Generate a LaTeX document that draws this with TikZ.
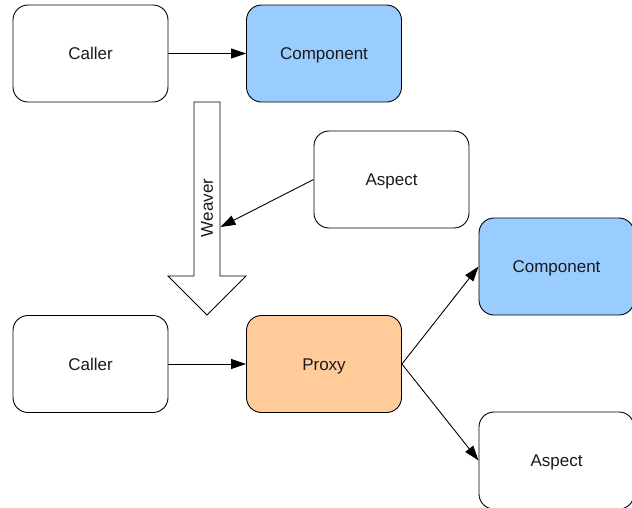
\documentclass[tikz,border=0pt]{standalone}
\usepackage{fontspec}
\setmainfont{Liberation Sans}
\usetikzlibrary{arrows.meta}
\definecolor{cblue}{HTML}{99CCFF}
\definecolor{corange}{HTML}{FFCC99}
\definecolor{ctext}{HTML}{1A1A1A}
\tikzset{
	box/.style={draw=black, line width=0.9pt, rounded corners=15pt, fill=white,
		minimum width=155pt, minimum height=97pt, inner sep=0pt,
		text height=12pt, text depth=0pt,
		font=\fontsize{17}{20}\selectfont, text=ctext},
	link/.style={draw=black, line width=0.9pt, -{Triangle[length=15pt,width=10pt]}}
}
\begin{document}
\begin{tikzpicture}[x=1pt, y=-1pt]
		\clip (0,0) rectangle (632,507);
		\useasboundingbox (0,0) rectangle (632,507);
		\node[box] (caller1) at (90.5,53.5) {Caller};
		\node[box, fill=cblue] (comp1) at (324,53.5) {Component};
		\node[box] (aspect1) at (391.5,179.5) {Aspect};
		\node[box] (caller2) at (90.5,364) {Caller};
		\node[box, fill=corange] (proxy) at (324,364) {Proxy};
		\node[box, fill=cblue] (comp2) at (556.5,266.5) {Component};
		\node[box] (aspect2) at (556.5,460.5) {Aspect};
		% weaver block arrow
		\draw[line width=0.9pt, fill=white] (194,102) -- (220,102) -- (220,276) -- (246,276)
			-- (207,315) -- (168,276) -- (194,276) -- cycle;
		\node[rotate=90, font=\fontsize{17}{20}\selectfont, text=ctext] (weaver) at (207,208) {Weaver};
		\coordinate (weave) at (220.5,227);
		\draw[link] (caller1) -- (comp1);
		\draw[link] (aspect1.west) -- (weave);
		\draw[link] (caller2) -- (proxy);
		\draw[link] (proxy.east) -- (comp2.west);
		\draw[link] (proxy.east) -- (aspect2.west);
	\end{tikzpicture}
\end{document}
